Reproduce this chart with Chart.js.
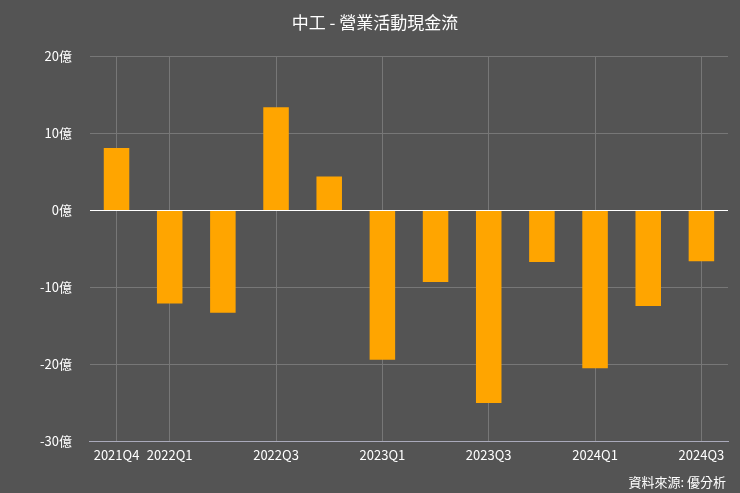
<!DOCTYPE html>
<html><head><meta charset="utf-8">
<script src="https://cdn.jsdelivr.net/npm/chart.js@4"></script>
<style>html,body{margin:0;padding:0;background:#545454;}#w{width:740px;height:493px;position:relative;}
#src{position:absolute;right:14px;bottom:2px;color:#fff;font:13px "Noto Sans CJK TC";}</style>
</head><body><div id="w"><canvas id="c" width="740" height="493"></canvas><div id="src">資料來源: 優分析</div></div>
<script>
const categories=["2021Q4","2022Q1","2022Q2","2022Q3","2022Q4","2023Q1","2023Q2","2023Q3","2023Q4","2024Q1","2024Q2","2024Q3"];
const values=[8.1,-12.1,-13.3,13.4,4.4,-19.4,-9.3,-25.0,-6.7,-20.5,-12.4,-6.6];
const shownLabels=["2021Q4","2022Q1","2022Q3","2023Q1","2023Q3","2024Q1","2024Q3"];
const yTicks=[20,10,0,-10,-20,-30];
new Chart(document.getElementById('c'),{type:'bar',
data:{labels:categories,datasets:[{data:values,backgroundColor:'#FFA500',barPercentage:0.48,categoryPercentage:1}]},
options:{responsive:false,animation:false,
layout:{padding:{left:22,right:12,top:8,bottom:24}},
plugins:{legend:{display:false},title:{display:true,text:'中工 - 營業活動現金流',color:'#fff',font:{family:'Noto Sans CJK TC',size:17,weight:'normal'},padding:{top:4,bottom:24}}},
scales:{
x:{ticks:{autoSkip:false,maxRotation:0,color:'#fff',padding:6,font:{family:'Noto Sans CJK TC',size:13},callback:function(v){const l=this.getLabelForValue(v);return shownLabels.includes(l)?l:'';}},
 grid:{offset:false,color:c=>shownLabels.includes(categories[c.index])?'#777':'rgba(0,0,0,0)',drawTicks:false},border:{color:'#aab'}},
y:{min:-30,max:20,afterBuildTicks:a=>{a.ticks=yTicks.map(v=>({value:v}));},
 ticks:{color:'#fff',font:{family:'Noto Sans CJK TC',size:13},padding:18,callback:v=>v+'億'},
 grid:{color:c=>c.tick.value===0?'#fff':'#777',drawTicks:false},border:{display:false}}}}});
</script></body></html>
